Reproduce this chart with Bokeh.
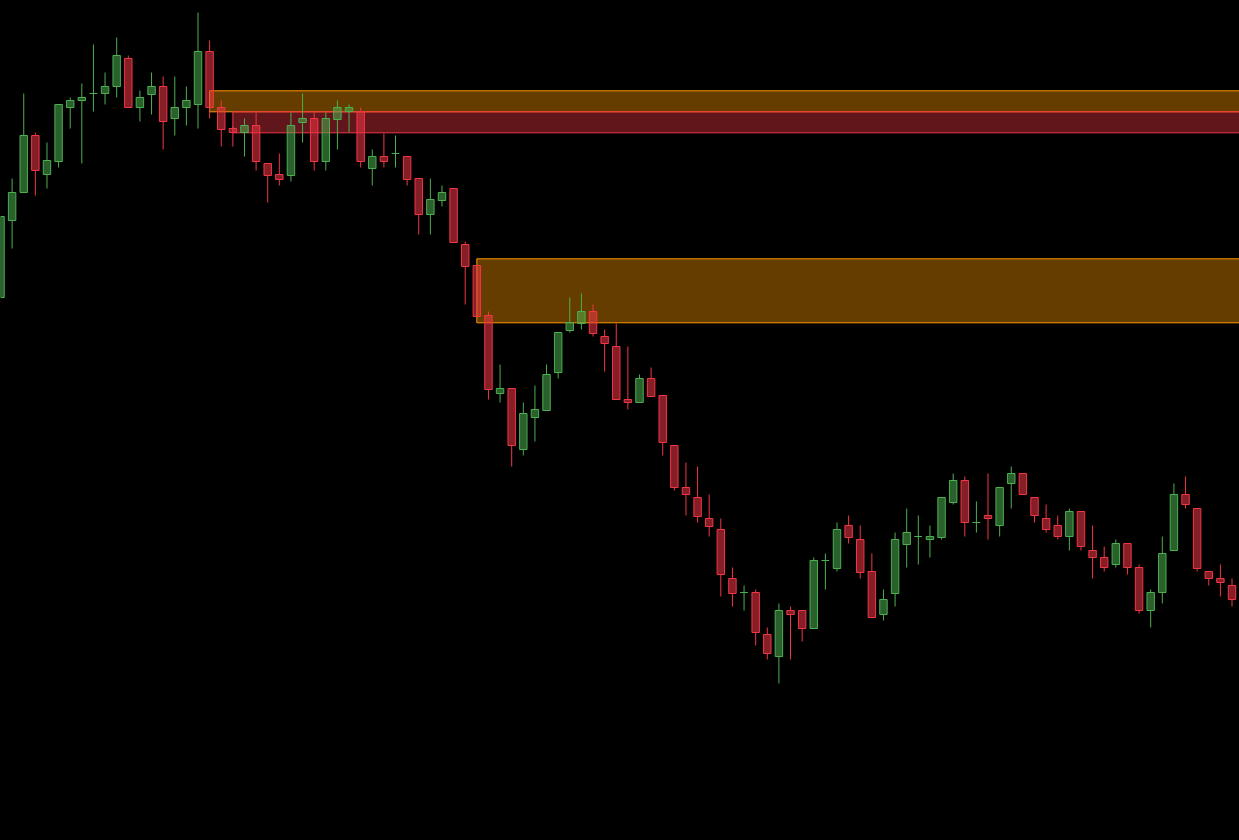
from bokeh.plotting import figure
from bokeh.models import ColumnDataSource, Range1d
from bokeh.embed import file_html
from bokeh.resources import INLINE

# ---- data (bar index, OHLC prices) ----
opens = [543, 620, 648, 705, 666, 679, 733, 740, 747, 747, 754, 782, 733, 746, 754, 722, 733, 736, 789, 733,
         712, 708, 715, 677, 666, 665, 718, 722, 679, 721, 729, 729, 672, 684, 687, 684, 662, 626, 640, 652,
         596, 575, 525, 447, 452, 391, 423, 430, 468, 510, 517, 529, 504, 494, 441, 438, 462, 445, 395, 353,
         343, 322, 311, 262, 248, 248, 206, 184, 230, 230, 212, 280, 272, 315, 301, 269, 226, 247, 296, 304,
         301, 303, 338, 360, 318, 325, 315, 357, 367, 343, 322, 315, 304, 329, 290, 283, 276, 297, 273, 230,
         248, 290, 346, 332, 269, 262, 255, 240]
highs = [624, 662, 747, 708, 698, 736, 743, 757, 796, 768, 803, 785, 750, 768, 764, 764, 754, 828, 800, 740,
         714, 722, 728, 677, 687, 728, 747, 728, 728, 740, 736, 733, 691, 707, 705, 684, 662, 662, 655, 652,
         599, 575, 529, 476, 452, 438, 455, 476, 508, 543, 547, 536, 511, 517, 494, 466, 473, 445, 395, 378,
         374, 346, 322, 273, 255, 251, 213, 237, 234, 230, 283, 287, 318, 325, 315, 287, 251, 308, 332, 325,
         315, 343, 367, 364, 339, 367, 353, 374, 367, 343, 336, 325, 332, 329, 315, 294, 301, 297, 276, 251,
         304, 357, 364, 332, 269, 276, 262, 250]
lows = [543, 592, 648, 645, 652, 673, 712, 677, 729, 736, 743, 733, 719, 726, 691, 705, 715, 712, 722, 694,
        694, 684, 670, 638, 655, 659, 698, 670, 670, 691, 708, 673, 655, 673, 673, 655, 606, 606, 634, 598,
        536, 524, 441, 438, 374, 385, 399, 430, 462, 508, 511, 504, 469, 441, 431, 438, 444, 385, 350, 325,
        318, 304, 244, 234, 230, 195, 181, 157, 181, 199, 212, 251, 269, 297, 262, 223, 220, 234, 273, 276,
        283, 301, 336, 304, 308, 301, 304, 332, 346, 318, 308, 301, 290, 290, 262, 269, 273, 266, 227, 213,
        237, 290, 332, 269, 255, 244, 234, 238]
closes = [624, 648, 705, 670, 680, 736, 740, 743, 747, 754, 785, 733, 743, 754, 719, 733, 740, 789, 733, 711,
          708, 715, 679, 665, 661, 715, 722, 679, 722, 733, 733, 679, 684, 679, 687, 661, 626, 641, 648, 598,
          574, 524, 451, 452, 395, 427, 431, 466, 508, 518, 529, 507, 497, 441, 438, 462, 444, 398, 353, 346,
          324, 314, 266, 247, 248, 208, 187, 230, 226, 212, 280, 280, 311, 303, 268, 223, 241, 301, 308, 304,
          304, 343, 360, 318, 318, 322, 353, 367, 346, 325, 311, 304, 329, 294, 283, 273, 297, 273, 230, 248,
          287, 346, 336, 272, 262, 258, 241, 248]

# supply / demand zones: start bar, upper price, lower price
zone_start = [18, 20, 41]
zone_top = [749.7, 728.7, 581.7]
zone_bottom = [728.7, 707.7, 517.7]
zone_kind = ["orange", "red", "orange"]

UP = "#4CAF50"
DOWN = "#F23645"
ORANGE = "#FF9800"

n = len(opens)
idx = list(range(n))
up = [c >= o for o, c in zip(opens, closes)]
col = [UP if u else DOWN for u in up]
btop = [max(o, c) for o, c in zip(opens, closes)]
bbot = [min(o, c) for o, c in zip(opens, closes)]

candles = ColumnDataSource(dict(x=idx, o=opens, h=highs, l=lows, c=closes,
                                top=btop, bottom=bbot, color=col))

X_END = 106.645
p = figure(width=1239, height=840, output_backend="svg", toolbar_location=None,
           x_range=Range1d(0.0, X_END), y_range=Range1d(0, 840),
           x_axis_type=None, y_axis_type=None, min_border=0,
           background_fill_color="#000000", border_fill_color="#000000",
           outline_line_color=None)
p.grid.visible = False

zcol = [ORANGE if k == "orange" else DOWN for k in zone_kind]
zones = ColumnDataSource(dict(left=zone_start, right=[X_END + 20] * len(zone_start),
                              top=zone_top, bottom=zone_bottom, color=zcol))
p.quad(left="left", right="right", top="top", bottom="bottom", source=zones,
       fill_color="color", fill_alpha=0.4, line_color="color", line_width=1)

# wicks (upper and lower, not through the body)
p.segment(x0="x", y0="h", x1="x", y1="top", source=candles, line_color="color", line_width=1)
p.segment(x0="x", y0="bottom", x1="x", y1="l", source=candles, line_color="color", line_width=1)

# bodies
p.vbar(x="x", top="top", bottom="bottom", width=0.64, source=candles,
       fill_color="color", fill_alpha=0.55, line_color="color", line_width=1)

template = """
{% block postamble %}
<style>html, body {margin:0 !important; padding:0; background:#000000; overflow:hidden;}</style>
{% endblock %}
"""
open("out.html", "w").write(file_html(p, INLINE, title="Candles", template=template))
